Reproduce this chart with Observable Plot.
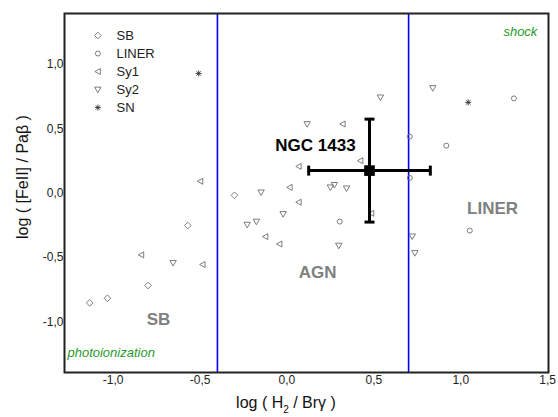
<!DOCTYPE html>
<html><head><meta charset="utf-8">
<script src="https://cdn.jsdelivr.net/npm/d3@7"></script>
<script src="https://cdn.jsdelivr.net/npm/@observablehq/plot@0.6"></script>
<style>
body{margin:0;background:#fff}
#chart{width:558px;height:417px}
</style>
</head><body><div id="chart"></div>
<script>
// ---- data (log H2/Brγ , log [FeII]/Paβ) ----
const sb = [[-1.135,-0.853],[-1.033,-0.817],[-0.799,-0.718],[-0.571,-0.252],[-0.302,-0.017]];
const liner = [[0.304,-0.221],[0.707,0.439],[0.707,0.118],[0.917,0.369],[1.052,-0.291],[1.306,0.736]];
const sy1 = [[-0.498,0.092],[-0.838,-0.48],[-0.485,-0.555],[0.068,0.208],[0.016,0.045],[0.068,-0.071],
             [-0.124,-0.338],[-0.043,-0.395],[0.321,0.537],[0.423,0.252],[0.486,-0.157]];
const sy2 = [[-0.655,-0.542],[0.538,0.744],[0.116,0.537],[-0.149,0.006],[0.25,0.045],[0.273,0.064],
             [0.343,0.037],[-0.022,-0.162],[-0.229,-0.245],[-0.176,-0.221],[0.298,-0.408],
             [0.721,-0.336],[0.736,-0.465],[0.839,0.817]];
const sn = [[-0.508,0.93],[1.043,0.705]];
const ngc = [{name:"NGC 1433", x:0.475, y:0.175, xerr:0.35, yerr:0.40}];
const boundaries = [-0.4, 0.7];
const xTicks = [-1,-0.5,0,0.5,1,1.5];
const yTicks = [-1,-0.5,0,0.5,1];
const seriesNames = ["SB","LINER","Sy1","Sy2","SN"];
const regionNames = [{text:"SB", x:-0.739, y:-1.028},{text:"AGN", x:0.176, y:-0.663},{text:"LINER", x:1.183, y:-0.160}];
const ngcLabel = [{text:"NGC 1433", x:0.164, y:0.326}];
const mechLeft = [{text:"photoionization", x:-1.263, y:-1.277}];
const mechRight = [{text:"shock", x:1.441, y:1.225}];

// ---- custom symbols ----
const R = s => Math.sqrt(s/Math.PI);
const triLeft = {draw(c,s){const r=R(s); c.moveTo(-r,0); c.lineTo(r*0.8,-r); c.lineTo(r*0.8,r); c.closePath();}};
const triDown = {draw(c,s){const r=R(s); c.moveTo(-r,-r*0.75); c.lineTo(r,-r*0.75); c.lineTo(0,r); c.closePath();}};
const asterisk = {draw(c,s){const r=R(s); const a=r*0.72;
  c.moveTo(0,-r); c.lineTo(0,r); c.moveTo(-r,0); c.lineTo(r,0);
  c.moveTo(-a,-a); c.lineTo(a,a); c.moveTo(-a,a); c.lineTo(a,-a);}};
const capV = {draw(c,s){const r=R(s); c.moveTo(0,-r); c.lineTo(0,r);}};
const capH = {draw(c,s){const r=R(s); c.moveTo(-r,0); c.lineTo(r,0);}};

const series = [
  {data: sb, symbol: "diamond2", r: 3, stroke: "#6e6e6e"},
  {data: liner, symbol: "circle", r: 2.5, stroke: "#6e6e6e"},
  {data: sy1, symbol: triLeft, r: 3, stroke: "#6e6e6e"},
  {data: sy2, symbol: triDown, r: 3.2, stroke: "#6e6e6e"},
  {data: sn, symbol: asterisk, r: 3, stroke: "#333"}
];

// legend layout (data units, inside the frame)
const legX = -1.088, legTextX = -0.981, legY0 = 1.225, legStep = 0.14;

const marks = [];
boundaries.forEach(b => marks.push(Plot.ruleX([b], {stroke:"#0000ff", strokeWidth:1.6})));
series.forEach((s, i) => {
  marks.push(Plot.dot(s.data, {x: d=>d[0], y: d=>d[1], symbol: s.symbol, r: s.r, stroke: s.stroke, strokeWidth: 0.9, fill: "none"}));
  marks.push(Plot.dot([seriesNames[i]], {x: () => legX, y: () => legY0 - i*legStep, symbol: s.symbol, r: s.r, stroke: s.stroke, strokeWidth: 0.9, fill:"none"}));
});
marks.push(Plot.text(seriesNames, {x: () => legTextX, y: (d,i) => legY0 - i*legStep, text: d=>d, textAnchor:"start", lineAnchor:"middle", fontSize: 13, fill:"#222"}));

// NGC 1433 with error bars
marks.push(Plot.ruleY(ngc, {y:"y", x1: d=>d.x-d.xerr, x2: d=>d.x+d.xerr, stroke:"black", strokeWidth:3}));
marks.push(Plot.ruleX(ngc, {x:"x", y1: d=>d.y-d.yerr, y2: d=>d.y+d.yerr, stroke:"black", strokeWidth:3}));
marks.push(Plot.dot(ngc.flatMap(d=>[[d.x-d.xerr,d.y],[d.x+d.xerr,d.y]]), {x:d=>d[0], y:d=>d[1], symbol: capV, r:5, stroke:"black", strokeWidth:3}));
marks.push(Plot.dot(ngc.flatMap(d=>[[d.x,d.y-d.yerr],[d.x,d.y+d.yerr]]), {x:d=>d[0], y:d=>d[1], symbol: capH, r:5, stroke:"black", strokeWidth:3}));
marks.push(Plot.dot(ngc, {x:"x", y:"y", symbol:"square", r:6, fill:"black"}));

// labels
marks.push(Plot.text(regionNames, {x:"x", y:"y", text:"text", textAnchor:"middle", lineAnchor:"bottom", fontSize:17, fontWeight:"bold", fill:"#808080"}));
marks.push(Plot.text(ngcLabel, {x:"x", y:"y", text:"text", textAnchor:"middle", lineAnchor:"bottom", fontSize:17, fontWeight:"bold", fill:"#000"}));
marks.push(Plot.text(mechLeft, {x:"x", y:"y", text:"text", textAnchor:"start", lineAnchor:"bottom", fontSize:13, fontStyle:"italic", fill:"#1f9a2a"}));
marks.push(Plot.text(mechRight, {x:"x", y:"y", text:"text", textAnchor:"end", lineAnchor:"bottom", fontSize:13, fontStyle:"italic", fill:"#1f9a2a"}));

marks.push(Plot.frame({stroke:"#222", strokeWidth:2}));

const fmt = d => d.toFixed(1).replace(".", ",");
const plot = Plot.plot({
  width: 558, height: 417,
  marginLeft: 64, marginRight: 10, marginTop: 13, marginBottom: 45,
  style: {fontFamily: "'Liberation Sans', Arial, sans-serif", fontSize: "12px", color: "#222", background: "#fff"},
  x: {domain: [-1.28, 1.505], ticks: xTicks, tickFormat: fmt, tickSize: 0, tickPadding: 3, label: null},
  y: {domain: [-1.394, 1.396], ticks: yTicks, tickFormat: fmt, tickSize: 0, tickPadding: 1, label: null},
  marks
});
document.getElementById("chart").appendChild(plot);

// axis titles with sub/special characters
const svg = d3.select(plot);
const xl = svg.append("text").attr("x", 286).attr("y", 408).attr("text-anchor","middle")
  .attr("font-size", 16).attr("fill", "#111").attr("font-family","'Liberation Sans', Arial, sans-serif");
xl.append("tspan").text("log ( H");
xl.append("tspan").attr("font-size", 10).attr("dy", 5).text("2");
xl.append("tspan").attr("dy", -5).text(" / Brγ )");
svg.append("text").attr("transform","translate(28,177) rotate(-90)").attr("text-anchor","middle")
  .attr("font-size", 16).attr("fill", "#111").attr("font-family","'Liberation Sans', Arial, sans-serif")
  .text("log ( [FeII] / Paβ )");
</script>
</body></html>
